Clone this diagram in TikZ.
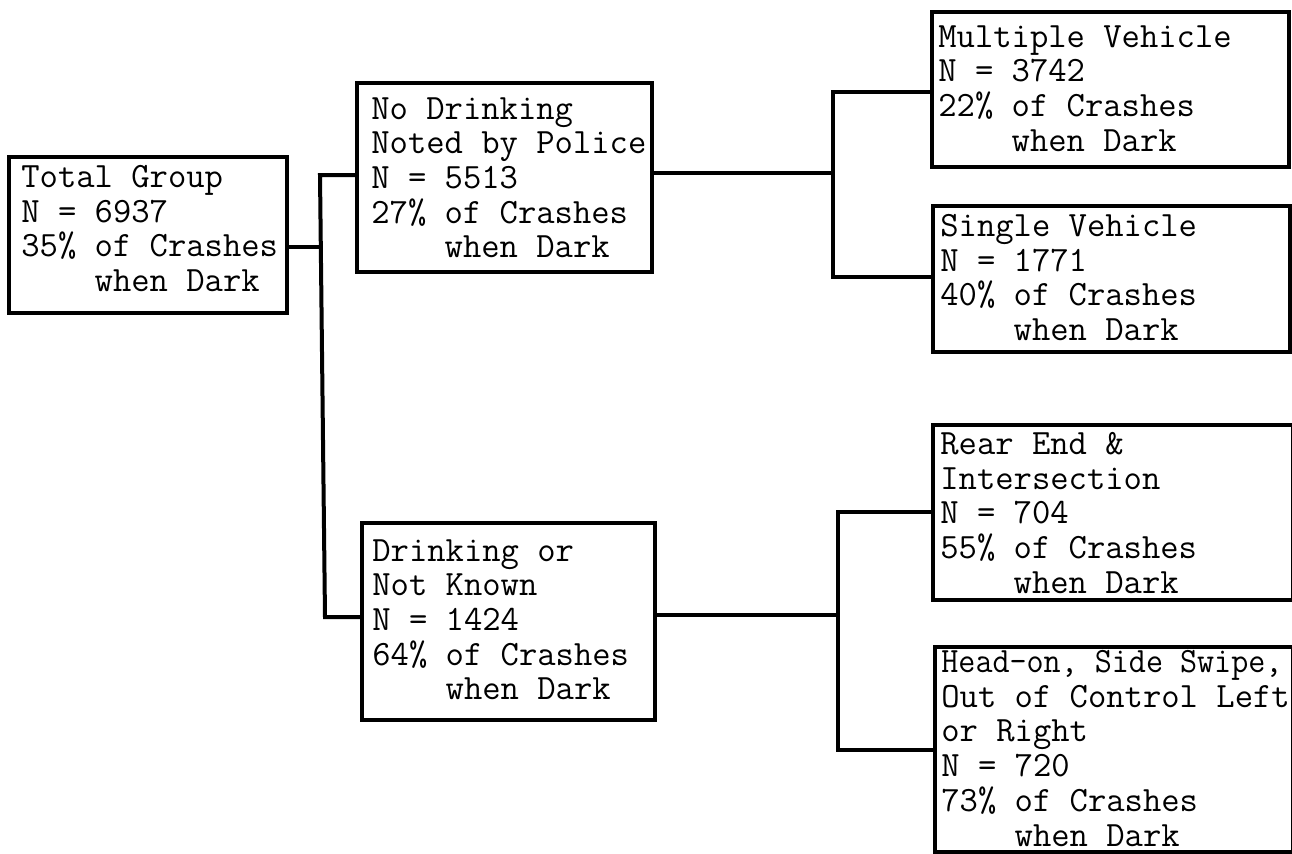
\documentclass[tikz,border=0pt]{standalone}
\usepackage{fontspec}
\usepackage{graphicx}
\usetikzlibrary{fit}
\tikzset{
  box/.style={draw=black, line width=2pt, inner sep=0pt, rectangle},
  conn/.style={draw=black, line width=2pt, line cap=rect},
  txt/.style={anchor=north west, inner sep=0pt, align=left,
    font=\fontsize{17.8}{17.35}\selectfont\ttfamily}
}
\newcommand{\ind}{\hphantom{0000}}
\begin{document}
\begin{tikzpicture}[x=0.5pt, y=-0.5pt]
\useasboundingbox[fill=white] (0,0) rectangle (1292,853);
% boxes
\node[box, fit={(9,157) (287,313)}] (total) {};
\node[box, fit={(357,83) (652,272)}] (nodrink) {};
\node[box, fit={(362,523) (655,720)}] (drink) {};
\node[box, fit={(932,12) (1289,167)}] (multi) {};
\node[box, fit={(933,206) (1290,352)}] (single) {};
\node[box, fit={(933,425) (1293,600)}] (rear) {};
\node[box, fit={(935,647) (1293,852)}] (head) {};
% texts
\node[txt] (totalT) at (21,165) {Total Group\\N = 6937\\35\% of Crashes\\\ind when Dark};
\node[txt] (nodrinkT) at (371,97) {No Drinking\\Noted by Police\\N = 5513\\27\% of Crashes\\\ind when Dark};
\node[txt] (drinkT) at (372,539) {Drinking or\\Not Known\\N = 1424\\64\% of Crashes\\\ind when Dark};
\node[txt] (multiT) at (938,25) {Multiple Vehicle\\N = 3742\\22\% of Crashes\\\ind when Dark};
\node[txt] (singleT) at (940,214) {Single Vehicle\\N = 1771\\40\% of Crashes\\\ind when Dark};
\node[txt] (rearT) at (940,432) {Rear End \&\\Intersection\\N = 704\\55\% of Crashes\\\ind when Dark};
\node[txt] (headT) at (941,650) {\scalebox{0.93}[1]{Head-on, Side Swipe,}\\Out of Control Left\\or Right\\N = 720\\73\% of Crashes\\\ind when Dark};
% junction coordinates
\coordinate (lm) at (320,247);
\coordinate (lt) at (320,175);
\coordinate (lb) at (325,617);
\coordinate (rtt) at (833,92);
\coordinate (rtm) at (833,173);
\coordinate (rtb) at (833,277);
\coordinate (rbt) at (838,512);
\coordinate (rbm) at (838,615);
\coordinate (rbb) at (838,750);
% connectors
\draw[conn] (total.east |- lm) -- (lm);
\draw[conn] (nodrink.west |- lt) -- (lt) -- (lb) -- (drink.west |- lb);
\draw[conn] (nodrink.east |- rtm) -- (rtm);
\draw[conn] (multi.west |- rtt) -- (rtt) -- (rtb) -- (single.west |- rtb);
\draw[conn] (drink.east |- rbm) -- (rbm);
\draw[conn] (rear.west |- rbt) -- (rbt) -- (rbb) -- (head.west |- rbb);
\end{tikzpicture}
\end{document}
